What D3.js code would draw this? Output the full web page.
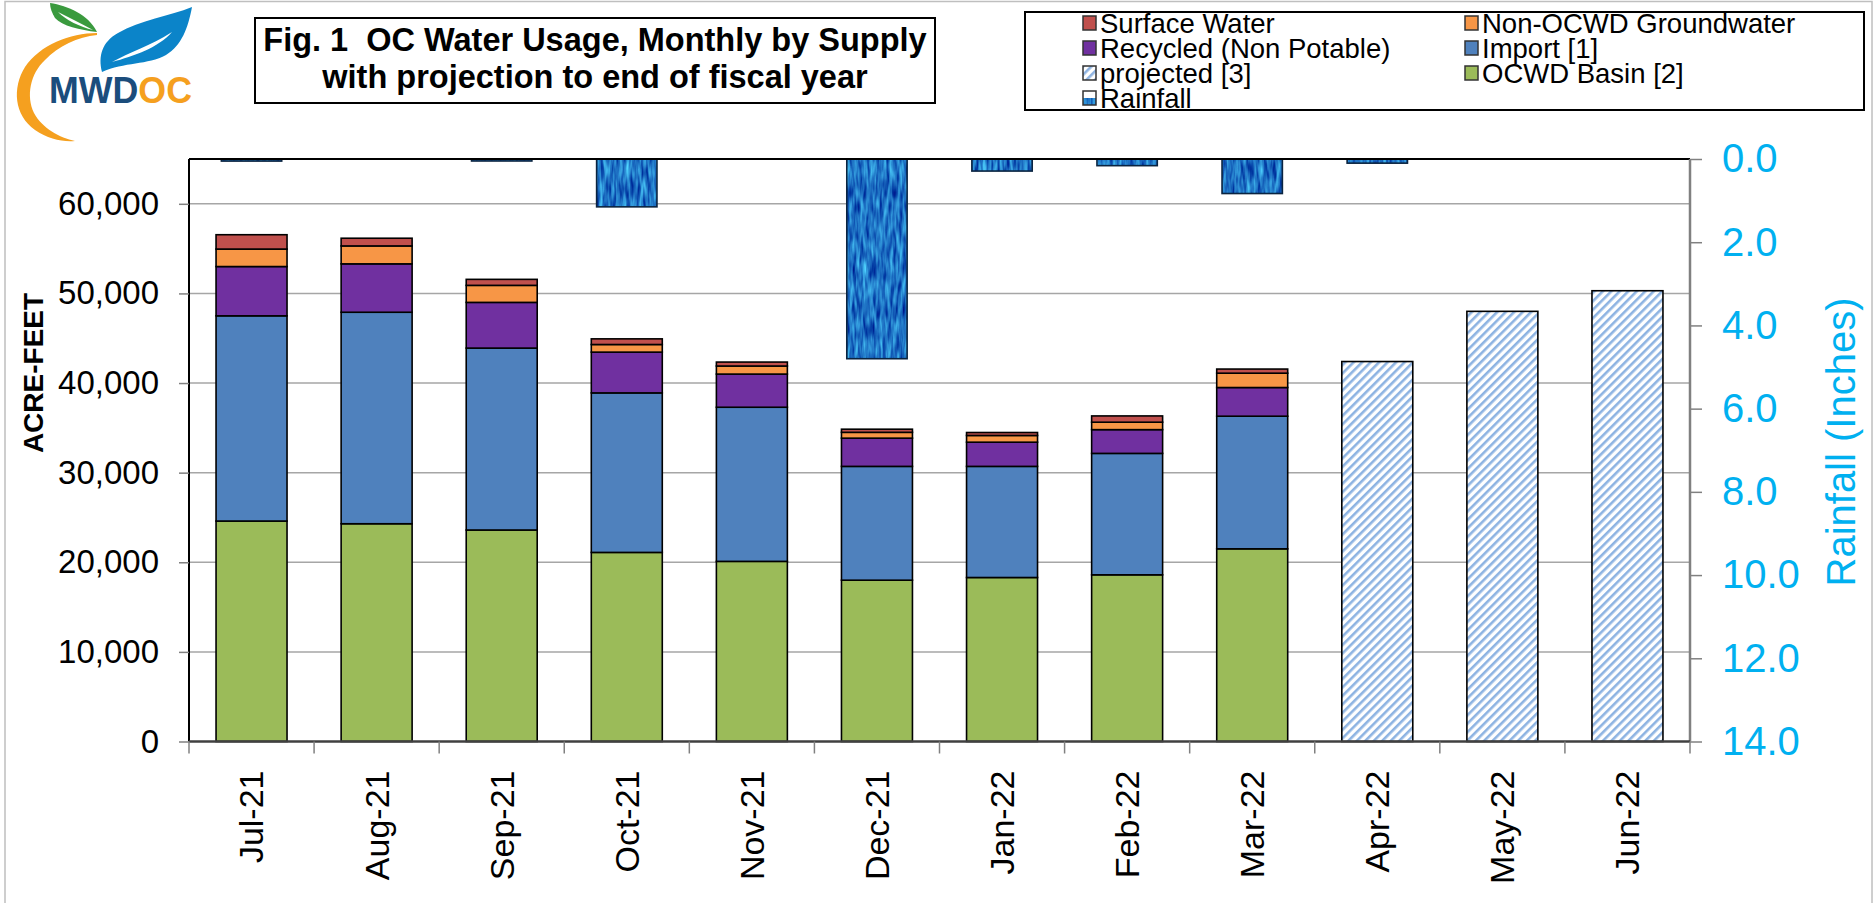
<!doctype html>
<html>
  <head>
    <script src="https://cdnjs.cloudflare.com/ajax/libs/d3/7.8.5/d3.min.js"></script>
    <style>
      body { margin: 0; background: #fff; }
      svg { display: block; font-family: "Liberation Sans", Arial, sans-serif; }
      text { white-space: pre; }
    </style>
  </head>
  <body>
    <svg></svg>
    <script>
      var width = 1875,
          height = 903;

      // data
      var months = ["Jul-21","Aug-21","Sep-21","Oct-21","Nov-21","Dec-21","Jan-22","Feb-22","Mar-22","Apr-22","May-22","Jun-22"];
      var ocwdBasin  = [24600, 24300, 23600, 21100, 20100, 18000, 18300, 18600, 21500, 0, 0, 0];
      var importW    = [22900, 23600, 20300, 17800, 17200, 12700, 12400, 13550, 14800, 0, 0, 0];
      var recycled   = [5500, 5400, 5100, 4550, 3700, 3150, 2700, 2650, 3200, 0, 0, 0];
      var nonOcwd    = [1950, 2000, 1900, 850, 900, 650, 750, 830, 1600, 0, 0, 0];
      var surface    = [1600, 860, 670, 630, 440, 350, 330, 700, 460, 0, 0, 0];
      var projected  = [0, 0, 0, 0, 0, 0, 0, 0, 0, 42400, 48000, 50300];
      var rainfall   = [0.05, 0, 0.02, 1.15, 0, 4.8, 0.29, 0.16, 0.83, 0.1, 0, 0];
      var leftTicks  = [0, 10000, 20000, 30000, 40000, 50000, 60000];
      var rightTicks = [0, 2, 4, 6, 8, 10, 12, 14];

      var keys = ["basin","import","recycled","nonocwd","surface","projected"];
      var colors = {basin:"#9bbb59", import:"#4f81bd", recycled:"#7030a0", nonocwd:"#f79646", surface:"#c0504d", projected:"url(#hatch)"};

      var rows = months.map(function(m, i) {
        return {month:m, basin:ocwdBasin[i], import:importW[i], recycled:recycled[i],
                nonocwd:nonOcwd[i], surface:surface[i], projected:projected[i]};
      });

      var plot = {left:189, right:1690, top:159, bottom:741.5};

      var svg = d3.select("svg").attr("width", width).attr("height", height);
      var defs = svg.append("defs");

      // hatch for projected bars
      var hatch = defs.append("pattern").attr("id","hatch")
          .attr("patternUnits","userSpaceOnUse").attr("width",6).attr("height",6)
          .attr("patternTransform","rotate(45)");
      hatch.append("rect").attr("width",6).attr("height",6).attr("fill","#fff");
      hatch.append("rect").attr("width",2.6).attr("height",6).attr("fill","#8db3e2");

      // water texture for rainfall
      var f = defs.append("filter").attr("id","water").attr("color-interpolation-filters","sRGB")
          .attr("filterUnits","userSpaceOnUse").attr("x",0).attr("y",0).attr("width",width).attr("height",height);
      f.append("feTurbulence").attr("type","fractalNoise").attr("baseFrequency","0.3 0.05")
          .attr("numOctaves",2).attr("seed",7).attr("result","noise");
      f.append("feColorMatrix").attr("in","noise").attr("type","matrix")
          .attr("values","0.5 0 0 0 -0.13  1.0 0 0 0 -0.05  0.6 0 0 0 0.47  0 0 0 0 1").attr("result","tint");
      f.append("feComposite").attr("in","tint").attr("in2","SourceGraphic").attr("operator","in");

      // outer frame
      svg.append("rect").attr("x",5).attr("y",1.5).attr("width",1867).attr("height",height+10)
          .attr("fill","none").attr("stroke","#bfbfbf").attr("stroke-width",1.5);

      var x = d3.scaleBand().domain(months).range([plot.left, plot.right]).paddingInner(0.4325).paddingOuter(0.21625);
      var y = d3.scaleLinear().domain([0, 65000]).range([plot.bottom, plot.top]);
      var yr = d3.scaleLinear().domain([0, 14]).range([plot.top, plot.bottom]);

      // gridlines
      svg.append("g").selectAll("line").data(leftTicks.filter(function(d){return d > 0;})).enter()
        .append("line")
          .attr("x1", plot.left).attr("x2", plot.right)
          .attr("y1", function(d){return y(d);}).attr("y2", function(d){return y(d);})
          .attr("stroke","#a6a6a6").attr("stroke-width",1.5);

      // stacked bars
      var series = d3.stack().keys(keys)(rows);
      svg.append("g").selectAll("g").data(series).enter()
        .append("g").attr("fill", function(s){return colors[s.key];})
        .selectAll("rect").data(function(s){return s.filter(function(d){return d[1] > d[0];});}).enter()
        .append("rect")
          .attr("x", function(d){return x(d.data.month);})
          .attr("width", x.bandwidth())
          .attr("y", function(d){return y(d[1]);})
          .attr("height", function(d){return y(d[0]) - y(d[1]);})
          .attr("stroke","#000").attr("stroke-width",1.6);

      // rainfall bars (hang from top)
      var rw = x.bandwidth() * 0.85;
      var rainData = months.map(function(m, i){return {month:m, v:rainfall[i]};}).filter(function(d){return d.v > 0;});
      var rain = svg.append("g");
      rain.selectAll("rect.fill").data(rainData).enter().append("rect")
          .attr("x", function(d){return x(d.month) + (x.bandwidth() - rw) / 2;})
          .attr("width", rw)
          .attr("y", yr(0))
          .attr("height", function(d){return Math.max(yr(d.v) - yr(0), 2);})
          .attr("fill","#1f74c2").attr("filter","url(#water)");
      rain.selectAll("rect.edge").data(rainData).enter().append("rect")
          .attr("x", function(d){return x(d.month) + (x.bandwidth() - rw) / 2;})
          .attr("width", rw)
          .attr("y", yr(0))
          .attr("height", function(d){return Math.max(yr(d.v) - yr(0), 2);})
          .attr("fill","none").attr("stroke","#0b2440").attr("stroke-width",1.6);

      // frame lines
      svg.append("line").attr("x1",plot.left).attr("x2",plot.right).attr("y1",plot.top).attr("y2",plot.top)
          .attr("stroke","#000").attr("stroke-width",2);
      svg.append("line").attr("x1",plot.left).attr("x2",plot.left).attr("y1",plot.top).attr("y2",plot.bottom)
          .attr("stroke","#000").attr("stroke-width",2);

      // left axis
      var yAxis = svg.append("g").attr("transform","translate(" + plot.left + ",0)")
          .call(d3.axisLeft(y).tickValues(leftTicks).tickSize(10).tickPadding(20).tickFormat(d3.format(",")));
      yAxis.select(".domain").remove();
      yAxis.selectAll(".tick line").attr("stroke","#808080").attr("stroke-width",1.5);
      yAxis.selectAll("text").attr("font-size",33).attr("fill","#000").attr("font-family","Liberation Sans, Arial, sans-serif");

      // right axis
      var rAxis = svg.append("g").attr("transform","translate(" + plot.right + ",0)")
          .call(d3.axisRight(yr).tickValues(rightTicks).tickSize(12).tickPadding(20).tickFormat(d3.format(".1f")));
      rAxis.select(".domain").attr("stroke","#808080").attr("stroke-width",2.5).attr("d","M0," + plot.top + "V" + plot.bottom);
      rAxis.selectAll(".tick line").attr("stroke","#808080").attr("stroke-width",1.5);
      rAxis.selectAll("text").attr("font-size",40).attr("fill","#00b0f0").attr("font-family","Liberation Sans, Arial, sans-serif");

      // bottom axis
      var xAxis = svg.append("g").attr("transform","translate(0," + plot.bottom + ")")
          .call(d3.axisBottom(x).tickSize(0).tickPadding(0));
      xAxis.select(".domain").attr("stroke","#404040").attr("stroke-width",2.5).attr("d","M" + plot.left + ",0H" + plot.right);
      xAxis.selectAll(".tick text")
          .attr("font-size",34).attr("fill","#000").attr("font-family","Liberation Sans, Arial, sans-serif")
          .attr("text-anchor","end").attr("transform","rotate(-90)")
          .attr("x",-29).attr("y",0).attr("dy","0.35em");
      var bounds = d3.range(months.length + 1).map(function(i){return plot.left + i * x.step();});
      xAxis.selectAll("line.bt").data(bounds).enter().append("line").attr("class","bt")
          .attr("x1", function(d){return d;}).attr("x2", function(d){return d;})
          .attr("y1",0).attr("y2",12).attr("stroke","#808080").attr("stroke-width",1.5);

      // axis titles
      svg.append("text").attr("transform","translate(43,373) rotate(-90)")
          .attr("text-anchor","middle").attr("font-size",28).attr("font-weight","bold").text("ACRE-FEET");
      svg.append("text").attr("transform","translate(1855,442) rotate(-90)")
          .attr("text-anchor","middle").attr("font-size",40).attr("fill","#00b0f0").text("Rainfall (Inches)");

      // title box
      svg.append("rect").attr("x",255).attr("y",18).attr("width",680).attr("height",85)
          .attr("fill","#fff").attr("stroke","#000").attr("stroke-width",2);
      var title = svg.append("text").attr("text-anchor","middle").attr("font-size",32.5).attr("font-weight","bold");
      title.append("tspan").attr("x",595).attr("y",51).text("Fig. 1  OC Water Usage, Monthly by Supply");
      title.append("tspan").attr("x",595).attr("y",88).text("with projection to end of fiscal year");

      // legend
      var legendItems = [
        {label:"Surface Water", fill:colors.surface, col:0, row:0},
        {label:"Non-OCWD Groundwater", fill:colors.nonocwd, col:1, row:0},
        {label:"Recycled (Non Potable)", fill:colors.recycled, col:0, row:1},
        {label:"Import [1]", fill:colors.import, col:1, row:1},
        {label:"projected [3]", fill:"url(#hatch)", col:0, row:2},
        {label:"OCWD Basin [2]", fill:colors.basin, col:1, row:2},
        {label:"Rainfall", fill:"#1f74c2", col:0, row:3, rain:true}
      ];
      svg.append("rect").attr("x",1025).attr("y",12).attr("width",839).attr("height",98)
          .attr("fill","#fff").attr("stroke","#000").attr("stroke-width",2);
      var lg = svg.append("g").selectAll("g").data(legendItems).enter().append("g")
          .attr("transform", function(d){return "translate(" + (d.col ? 1465 : 1083) + "," + (23 + d.row * 25) + ")";});
      lg.append("rect").attr("x",0).attr("y",-7).attr("width",13).attr("height",14)
          .attr("fill", function(d){return d.fill;})
          .attr("filter", function(d){return d.rain ? "url(#water)" : null;});
      lg.append("rect").attr("x",0).attr("y",-7).attr("width",13).attr("height",14)
          .attr("fill","none").attr("stroke","#333").attr("stroke-width",1.5);
      lg.append("text").attr("x",17).attr("dy","0.36em").attr("font-size",27.5).text(function(d){return d.label;});

      // MWDOC logo
      var logo = svg.append("g");
      logo.append("path").attr("fill","#f5a01f")
          .attr("d","M97,33 C70,33 40,45 25,67 C12,88 14,115 35,130 C48,139 62,142 75,141 C60,138 42,128 34,113 C26,96 30,74 45,60 C58,46 78,37 97,35 Z");
      logo.append("path").attr("fill","#3a9a3e")
          .attr("d","M50,3 C68,6 88,14 97,32 C80,30 62,26 55,18 C52,13 50,8 50,3 Z");
      logo.append("path").attr("fill","#fff").attr("d","M58,12 C70,18 82,24 93,30 C80,27 66,20 58,12 Z");
      logo.append("path").attr("fill","#0b84c9")
          .attr("d","M102,72 C98,56 102,42 118,33 C140,20 170,16 192,7 C188,28 182,45 166,55 C148,65 124,62 102,72 Z");
      logo.append("path").attr("fill","#fff").attr("d","M112,62 C130,52 150,46 172,32 C158,48 134,56 112,62 Z");
      var mw = logo.append("text").attr("x",49).attr("y",103).attr("font-size",36).attr("font-weight","bold")
          .attr("textLength",143).attr("lengthAdjust","spacingAndGlyphs");
      mw.append("tspan").attr("fill","#1b4d7c").text("MWD");
      mw.append("tspan").attr("fill","#f5a01f").text("OC");
    </script>
  </body>
</html>
